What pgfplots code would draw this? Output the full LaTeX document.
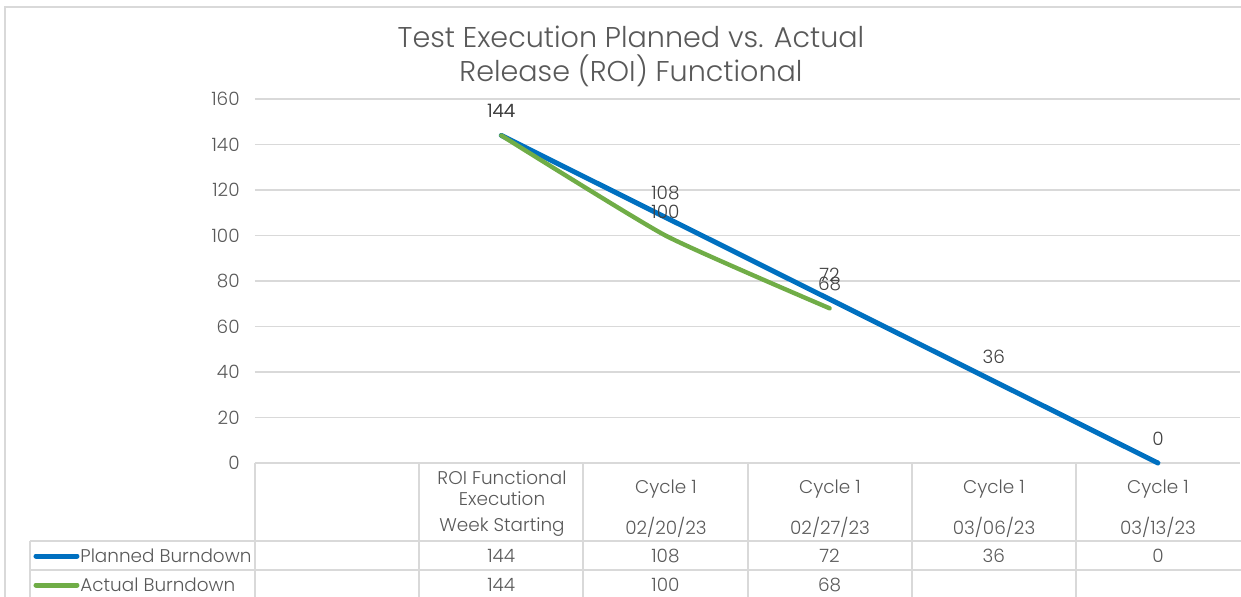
\documentclass[border=0pt]{standalone}
\usepackage{pgfplots}
\pgfplotsset{compat=1.18}
\usepackage{pgfplotstable}
\usepackage{fontspec}
\setmainfont{Poppins Light}
\definecolor{planned}{HTML}{0070C0}
\definecolor{actual}{HTML}{70AD47}
\definecolor{gridc}{HTML}{D9D9D9}
\definecolor{txt}{HTML}{595959}
\definecolor{lbl}{HTML}{404040}

\pgfplotstableread{
x y
1 144
2 108
3 72
4 36
5 0
}\planned
\pgfplotstableread{
x y
1 144
2 100
3 68
}\actual

\newcommand{\tf}{\fontsize{9.2}{11}\selectfont}

\begin{document}
\begin{tikzpicture}
\path[use as bounding box] (-127.5pt,-66.5pt) rectangle (493pt,231.5pt);
\begin{axis}[
  at={(0,0)}, anchor=south west,
  scale only axis, width=492.5pt, height=182pt,
  xmin=-0.5, xmax=5.5, ymin=0, ymax=160,
  ytick={0,20,...,160}, xtick=\empty,
  ymajorgrids, grid style={gridc, line width=0.75pt},
  axis line style={draw=none},
  major tick length=0pt,
  yticklabel style={font=\tf, text=txt, inner sep=0pt, xshift=-7.5pt},
  /pgf/number format/assume math mode=true,
  clip=false,
]
\addplot[planned, line width=2.5pt, mark=none, line cap=round,
  nodes near coords, point meta=explicit,
  every node near coord/.style={font=\tf, text=lbl, anchor=center, yshift=12pt}]
  table[x=x, y=y, meta=y] {\planned};
\addplot[actual, line width=2.2pt, mark=none, smooth, tension=0.3, line cap=round,
  nodes near coords, point meta=explicit,
  every node near coord/.style={font=\tf, text=lbl, anchor=center, yshift=12pt}]
  table[x=x, y=y, meta=y] {\actual};
% data table rows
\addplot[draw=none, mark=none, nodes near coords, point meta=explicit,
  every node near coord/.style={font=\tf, text=txt, anchor=center}]
  table[x=x, y expr=-40.88, meta=y] {\planned};
\addplot[draw=none, mark=none, nodes near coords, point meta=explicit,
  every node near coord/.style={font=\tf, text=txt, anchor=center}]
  table[x=x, y expr=-53.63, meta=y] {\actual};
\end{axis}
\begin{scope}[x=0.5pt, y=-0.5pt, shift={(-127.5pt,231.5pt)}]
  % frame
  \draw[gridc, line width=1pt] (5,600) -- (5,7) -- (1245,7);
  % table grid
  \draw[gridc, line width=0.75pt] (255,463) -- (255,600);
  \foreach \xx in {419,583,748,912,1076} {\draw[gridc, line width=0.75pt] (\xx,463) -- (\xx,600);}
  \draw[gridc, line width=0.75pt] (30,541) -- (1245,541);
  \draw[gridc, line width=0.75pt] (30,570) -- (1245,570);
  \draw[gridc, line width=0.75pt] (30,541) -- (30,600);
  % title
  \node[font=\fontsize{14.3}{17}\selectfont, text=txt] at (631,37) {Test Execution Planned vs. Actual};
  \node[font=\fontsize{14.3}{17}\selectfont, text=txt] at (631,71) {Release (ROI) Functional};
  % header
  \node[font=\tf, text=txt] at (502,478) {ROI Functional};
  \node[font=\tf, text=txt] at (502,499) {Execution};
  \node[font=\tf, text=txt] at (502,527) {Week Starting};
  \foreach \xx/\dd in {666/02\slash 20\slash 23, 830/02\slash 27\slash 23, 994/03\slash 06\slash 23, 1158/03\slash 13\slash 23} {
    \node[font=\tf, text=txt] at (\xx,489) {Cycle 1};
    \node[font=\tf, text=txt] at (\xx,527) {\dd};
  }
  % legend keys
  \draw[planned, line width=2.5pt, line cap=round] (36,556) -- (77,556);
  \node[font=\tf, text=txt, anchor=west, inner sep=0pt] at (80,556) {Planned Burndown};
  \draw[actual, line width=2.5pt, line cap=round] (36,585) -- (77,585);
  \node[font=\tf, text=txt, anchor=west, inner sep=0pt] at (80,585) {Actual Burndown};
\end{scope}
\end{tikzpicture}
\end{document}
